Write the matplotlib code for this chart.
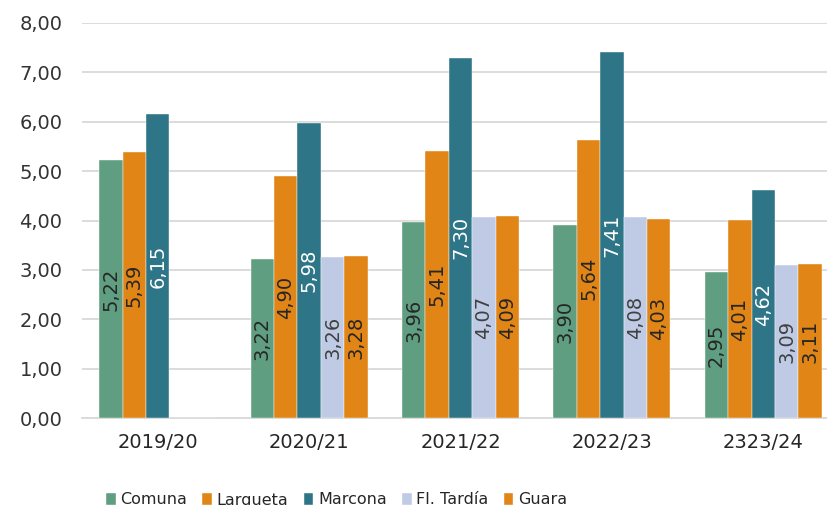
import numpy as np
import matplotlib.pyplot as plt

campaigns = ['2019/20', '2020/21', '2021/22', '2022/23', '2323/24']
comuna = [5.22, 3.22, 3.96, 3.90, 2.95]
largueta = [5.39, 4.90, 5.41, 5.64, 4.01]
marcona = [6.15, 5.98, 7.30, 7.41, 4.62]
fl_tardia = [np.nan, 3.26, 4.07, 4.08, 3.09]
guara = [np.nan, 3.28, 4.09, 4.03, 3.11]

series = [
    ('Comuna', comuna, '#5f9e80', '#262626'),
    ('Largueta', largueta, '#e08516', '#262626'),
    ('Marcona', marcona, '#2e7587', 'white'),
    ('Fl. Tardía', fl_tardia, '#bfcbe5', '#404040'),
    ('Guara', guara, '#e08516', '#262626'),
]

fig = plt.figure(figsize=(8.27, 5.05), dpi=100)
ax = fig.add_axes([82 / 827, 87 / 505, 745 / 827, 395 / 505])

x = np.arange(len(campaigns))
w = 0.1545
for i, (name, vals, col, tcol) in enumerate(series):
    vals = np.array(vals, dtype=float)
    pos = x + (i - 2) * w
    bars = ax.bar(pos, np.nan_to_num(vals), w, color=col, label=name,
                  edgecolor='white', linewidth=0.3, zorder=3)
    labels = ['' if np.isnan(v) else f'{v:.2f}'.replace('.', ',') for v in vals]
    ax.bar_label(bars, labels=labels, label_type='center', rotation=90,
                 color=tcol, fontsize=14, zorder=4)

ax.set_xlim(-0.5, 4.42)
ax.set_ylim(0, 8)
ax.set_yticks(np.arange(0, 9, 1))
ax.set_yticklabels([f'{v:.2f}'.replace('.', ',') for v in np.arange(0, 9, 1)])
ax.set_xticks(x)
ax.set_xticklabels(campaigns)
ax.tick_params(axis='y', length=0, pad=14, labelsize=14, labelcolor='#333333')
ax.tick_params(axis='x', length=0, pad=11, labelsize=14, labelcolor='#262626')
ax.grid(axis='y', color='#d9d9d9', linewidth=1.3, zorder=0)
ax.set_axisbelow(True)
for s in ['top', 'right', 'left']:
    ax.spines[s].set_visible(False)
ax.spines['bottom'].set_color('#d9d9d9')
ax.spines['bottom'].set_linewidth(1.3)

fig.legend(loc='center left', bbox_to_anchor=(106 / 827, 1 - 500 / 505),
           ncol=5, frameon=False, fontsize=11.5, handlelength=0.6,
           handleheight=0.7, handletextpad=0.3, columnspacing=0.95,
           borderpad=0, borderaxespad=0, labelcolor='#262626')

fig.savefig('out.png', dpi=100)
